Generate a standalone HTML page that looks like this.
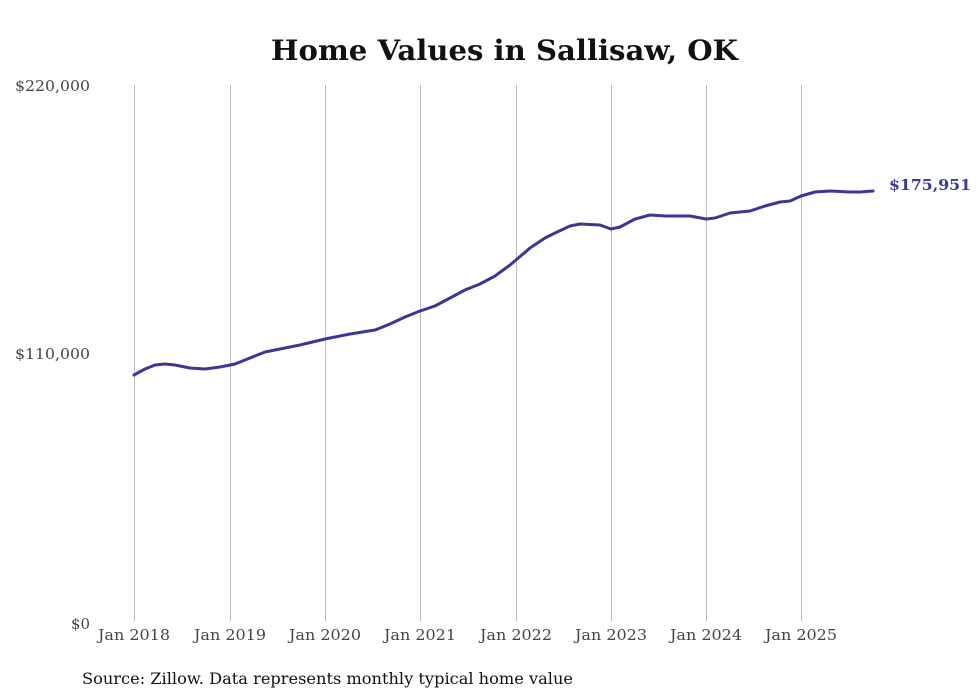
<!DOCTYPE html>
<html><head><meta charset="utf-8"><style>
html,body{margin:0;padding:0;background:#fff;}
svg{display:block;font-family:"DejaVu Serif","Liberation Serif",serif;}
</style></head><body>
<svg width="980" height="699" viewBox="0 0 980 699">
<rect width="980" height="699" fill="#fff"/>
<text x="271" y="60" font-size="28" font-weight="bold" fill="#111" textLength="467" lengthAdjust="spacingAndGlyphs">Home Values in Sallisaw, OK</text>
<g stroke="#bbb" stroke-width="1">
<line x1="134.5" y1="85" x2="134.5" y2="621"/>
<line x1="230.5" y1="85" x2="230.5" y2="621"/>
<line x1="325.5" y1="85" x2="325.5" y2="621"/>
<line x1="420.5" y1="85" x2="420.5" y2="621"/>
<line x1="516.5" y1="85" x2="516.5" y2="621"/>
<line x1="611.5" y1="85" x2="611.5" y2="621"/>
<line x1="706.5" y1="85" x2="706.5" y2="621"/>
<line x1="801.5" y1="85" x2="801.5" y2="621"/>
</g>
<g font-size="15" fill="#444">
<text x="15" y="91" textLength="75" lengthAdjust="spacingAndGlyphs">$220,000</text>
<text x="15" y="359" textLength="75" lengthAdjust="spacingAndGlyphs">$110,000</text>
<text x="71" y="629" textLength="19" lengthAdjust="spacingAndGlyphs">$0</text>
</g>
<g font-size="15" fill="#444">
<text x="98" y="640" textLength="72" lengthAdjust="spacingAndGlyphs">Jan 2018</text>
<text x="194" y="640" textLength="72" lengthAdjust="spacingAndGlyphs">Jan 2019</text>
<text x="289" y="640" textLength="72" lengthAdjust="spacingAndGlyphs">Jan 2020</text>
<text x="384" y="640" textLength="72" lengthAdjust="spacingAndGlyphs">Jan 2021</text>
<text x="480" y="640" textLength="72" lengthAdjust="spacingAndGlyphs">Jan 2022</text>
<text x="575" y="640" textLength="72" lengthAdjust="spacingAndGlyphs">Jan 2023</text>
<text x="670" y="640" textLength="72" lengthAdjust="spacingAndGlyphs">Jan 2024</text>
<text x="765" y="640" textLength="72" lengthAdjust="spacingAndGlyphs">Jan 2025</text>
</g>
<text x="82" y="684" font-size="16" fill="#111" textLength="491" lengthAdjust="spacingAndGlyphs">Source: Zillow. Data represents monthly typical home value</text>
<polyline fill="none" stroke="#3b3795" stroke-width="3" stroke-linejoin="round" stroke-linecap="round"
points="134,375 145,369 155,365 165,364 175,365 190,368 205,369 220,367 235,364 250,358 265,352 285,348 300,345 325,339 350,334 375,330 390,324 405,317 420,311 435,306 450,298 465,290 480,284 495,276 510,265 516,260 530,248 545,238 555,233 570,226 580,224 600,225 611,229 620,227 635,219 650,215 665,216 690,216 706,219 715,218 730,213 750,211 765,206 780,202 790,201 801,196 815,192 830,191 850,192 860,192 873,191"/>
<text x="889" y="190" font-size="15" font-weight="bold" fill="#3b3795" textLength="82" lengthAdjust="spacingAndGlyphs">$175,951</text>
</svg>
</body></html>
